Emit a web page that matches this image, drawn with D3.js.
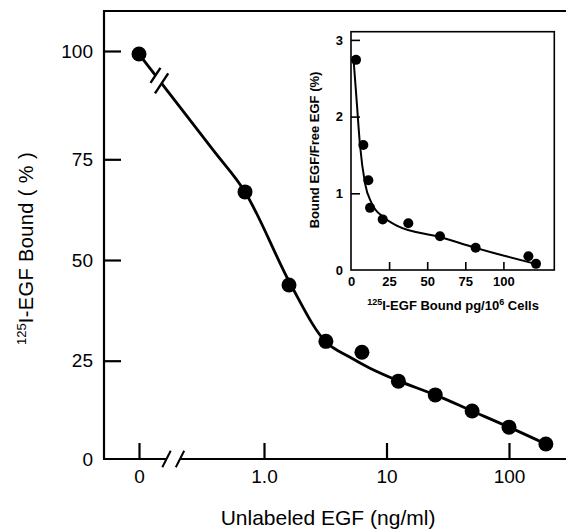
<!DOCTYPE html>
<html><head><meta charset="utf-8">
<script src="https://cdn.jsdelivr.net/npm/d3@7"></script>
<style>
body{margin:0;background:#fff}
svg{display:block}
text{font-family:"Liberation Sans",Arial,Helvetica,sans-serif;fill:#000}
</style>
</head><body>
<svg id="c" width="566" height="529"></svg>
<script>
// ---- Main chart data ----
const mainConc  = [0, 0.7, 1.6, 3.2, 6.3, 12.5, 25, 50, 100, 200];
const mainBound = [99.3, 66.9, 43.8, 29.8, 27.1, 19.8, 16.3, 12.2, 8.1, 3.8];
const fitConc   = [0, 0.385, 0.70, 1.66, 3.19, 5.0, 7.33, 12.7, 25, 50, 100, 200];
const fitBound  = [99.3, 77.1, 66.9, 43.8, 29.7, 25.9, 23.1, 19.8, 16.3, 12.2, 8.1, 3.8];
const xLogTicks = [1, 10, 100];
const xLogTickLabels = ["1.0", "10", "100"];
const xZeroTick = [0];
const yTicks = [0, 25, 50, 75, 100];

// ---- Inset (Scatchard) data ----
const insetBound = [3.3, 8.1, 11.4, 12.5, 20.8, 37.6, 58.4, 81.8, 116.4, 121.4];
const insetRatio = [2.74, 1.63, 1.17, 0.81, 0.66, 0.61, 0.44, 0.29, 0.18, 0.08];
const insetFitBound = [1.5, 3.7, 5.9, 9.2, 13.6, 21.2, 30, 58.4, 81.4, 121];
const insetFitRatio = [2.79, 2.21, 1.63, 1.13, 0.87, 0.69, 0.58, 0.43, 0.29, 0.08];
const insetXTicks = [0, 25, 50, 75, 100];
const insetYTicks = [0, 1, 2, 3];

const svg = d3.select("#c");

// ---- Main layout ----
const L = 104, T = 11, B = 459, R = 566;
const x = d3.scaleLog().domain([1, 100]).range([264, 509]);
const x0 = d3.scaleLinear().domain([0, 1]).range([139, 160]);
const xp = c => c === 0 ? x0(0) : x(c);
const y = d3.scaleLinear().domain([0, 25, 50, 75, 100]).range([459, 360.7, 260, 159.3, 51]);

const g = svg.append("g");

// frame lines
g.append("line").attr("x1", L).attr("x2", L).attr("y1", T).attr("y2", B)
  .attr("stroke", "#000").attr("stroke-width", 2.2);
g.append("line").attr("x1", L - 1).attr("x2", R).attr("y1", T).attr("y2", T)
  .attr("stroke", "#000").attr("stroke-width", 2.2);
// bottom axis with break
g.append("line").attr("x1", L - 1).attr("x2", 167).attr("y1", B).attr("y2", B)
  .attr("stroke", "#000").attr("stroke-width", 2.2);
g.append("line").attr("x1", 180).attr("x2", R).attr("y1", B).attr("y2", B)
  .attr("stroke", "#000").attr("stroke-width", 2.2);
[[166.5], [180]].forEach(([cx]) => {
  g.append("line").attr("x1", cx - 4.2).attr("y1", B + 8.2).attr("x2", cx + 4.2).attr("y2", B - 8.2)
    .attr("stroke", "#000").attr("stroke-width", 2);
});

// y axis
const yAxis = d3.axisLeft(y).tickValues(yTicks).tickFormat(d3.format("d"))
  .tickSize(-17).tickSizeOuter(0).tickPadding(11);
const ya = g.append("g").attr("transform", `translate(${L},0)`).call(yAxis);
ya.select(".domain").remove();
ya.selectAll(".tick line").attr("stroke", "#000").attr("stroke-width", 2.2);
ya.selectAll(".tick text").style("font-size", "19px").style("font-family", "Liberation Sans, Arial, sans-serif");
ya.selectAll(".tick").filter(d => d === 0).select("line").remove();

// x axis (log part)
const xAxis = d3.axisBottom(x).tickValues(xLogTicks).tickFormat((d, i) => xLogTickLabels[i])
  .tickSize(-16).tickSizeOuter(0).tickPadding(10.5);
const xa = g.append("g").attr("transform", `translate(0,${B})`).call(xAxis);
xa.select(".domain").remove();
// x axis (zero part)
const xAxis0 = d3.axisBottom(x0).tickValues(xZeroTick).tickFormat(d3.format("d"))
  .tickSize(-16).tickSizeOuter(0).tickPadding(10.5);
const xa0 = g.append("g").attr("transform", `translate(0,${B})`).call(xAxis0);
xa0.select(".domain").remove();
[xa, xa0].forEach(a => {
  a.selectAll(".tick line").attr("stroke", "#000").attr("stroke-width", 2.2);
  a.selectAll(".tick text").style("font-size", "19px").style("font-family", "Liberation Sans, Arial, sans-serif");
});

// fitted curve
const fitPts = fitConc.map((c, i) => [xp(c), y(fitBound[i])]);
g.append("path").datum(fitPts)
  .attr("d", d3.line().curve(d3.curveCatmullRom.alpha(0.5)))
  .attr("fill", "none").attr("stroke", "#000").attr("stroke-width", 2.8);

// break on curve
{
  const [p0, p1] = fitPts;
  const dx = p1[0] - p0[0], dy = p1[1] - p0[1];
  const len = Math.hypot(dx, dy);
  const ux = dx / len, uy = dy / len;
  const at = d => [p0[0] + ux * d, p0[1] + uy * d];
  const a = at(27), b = at(37);
  g.append("line").attr("x1", a[0]).attr("y1", a[1]).attr("x2", b[0]).attr("y2", b[1])
    .attr("stroke", "#fff").attr("stroke-width", 7);
  const sx = 0.55, sy = -0.835;
  [[a, 9, 9], [b, 12, 12]].forEach(([c, l1, l2]) => {
    g.append("line").attr("x1", c[0] - sx * l1).attr("y1", c[1] - sy * l1)
      .attr("x2", c[0] + sx * l2).attr("y2", c[1] + sy * l2)
      .attr("stroke", "#000").attr("stroke-width", 2.4);
  });
}

// data points
g.selectAll("circle.m").data(mainConc).join("circle").attr("class", "m")
  .attr("cx", d => xp(d)).attr("cy", (d, i) => y(mainBound[i])).attr("r", 7.5).attr("fill", "#000");

// axis titles
const yl = g.append("text").attr("transform", "translate(33,345) rotate(-90)")
  .attr("text-anchor", "start").style("font-size", "20px");
yl.append("tspan").text("125").style("font-size", "13px").attr("dy", "-7");
yl.append("tspan").text("I-EGF Bound ( % )").attr("dy", "7").style("letter-spacing", "0.4px");

g.append("text").attr("x", 328).attr("y", 525).attr("text-anchor", "middle")
  .style("font-size", "21px").text("Unlabeled EGF (ng/ml)");

// ---- Inset ----
const iL = 351, iR = 554.3, iT = 31.7, iB = 270;
const ix = d3.scaleLinear().domain([0, 25]).range([351, 389.1]);
const iy = d3.scaleLinear().domain([0, 1]).range([270, 193.3]);
const ig = svg.append("g");
ig.append("rect").attr("x", iL).attr("y", iT).attr("width", iR - iL).attr("height", iB - iT)
  .attr("fill", "#fff").attr("stroke", "#000").attr("stroke-width", 1.6);

const ixAxis = d3.axisBottom(ix).tickValues(insetXTicks).tickFormat(d3.format("d"))
  .tickSize(-8).tickSizeOuter(0).tickPadding(7);
const ixa = ig.append("g").attr("transform", `translate(0,${iB})`).call(ixAxis);
const iyAxis = d3.axisLeft(iy).tickValues(insetYTicks).tickFormat(d3.format("d"))
  .tickSize(-9).tickSizeOuter(0).tickPadding(8);
const iya = ig.append("g").attr("transform", `translate(${iL},0)`).call(iyAxis);
[ixa, iya].forEach(a => {
  a.select(".domain").remove();
  a.selectAll(".tick line").attr("stroke", "#000").attr("stroke-width", 1.6);
  a.selectAll(".tick text").style("font-size", "13px").style("font-weight", "bold")
    .style("font-family", "Liberation Sans, Arial, sans-serif");
});
ixa.selectAll(".tick").filter(d => d === 0).select("line").remove();
iya.selectAll(".tick").filter(d => d === 0).select("line").remove();

ig.append("path").datum(insetFitBound.map((b, i) => [ix(b), iy(insetFitRatio[i])]))
  .attr("d", d3.line().curve(d3.curveMonotoneX))
  .attr("fill", "none").attr("stroke", "#000").attr("stroke-width", 2);

ig.selectAll("circle").data(insetBound).join("circle")
  .attr("cx", d => ix(d)).attr("cy", (d, i) => iy(insetRatio[i])).attr("r", 5).attr("fill", "#000");

ig.append("text").attr("transform", "translate(319,150) rotate(-90)").attr("text-anchor", "middle")
  .style("font-size", "13px").style("font-weight", "bold").text("Bound EGF/Free EGF (%)");

const ixl = ig.append("text").attr("x", 453).attr("y", 310).attr("text-anchor", "middle")
  .style("font-size", "13px").style("font-weight", "bold");
ixl.append("tspan").text("125").style("font-size", "9px").attr("dy", "-5");
ixl.append("tspan").text("I-EGF Bound pg/10").attr("dy", "5");
ixl.append("tspan").text("6").style("font-size", "9px").attr("dy", "-5");
ixl.append("tspan").text(" Cells").attr("dy", "5");
</script>
</body></html>
